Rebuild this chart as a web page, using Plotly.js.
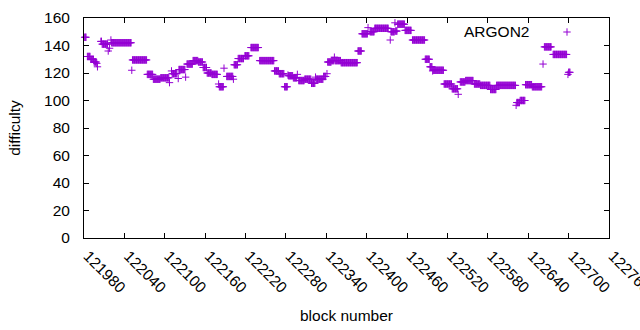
<!DOCTYPE html>
<html>
<head>
<meta charset="utf-8">
<script src="https://cdn.plot.ly/plotly-3.0.1.min.js"></script>
<style>html,body{margin:0;padding:0;background:#fff;}#chart{width:640px;height:330px;}</style>
</head>
<body>
<div id="chart"></div>
<script>
// Runs of consecutive blocks sharing the same difficulty (first block, last block, difficulty)
var runStart = [121981,121985,121990,121995,121999,122000,122005,122007,122016,122018,122020,122021,122051,122052,122074,122083,122094,122107,122110,122111,122120,122121,122131,122133,122142,122150,122157,122163,122170,122180,122181,122188,122192,122202,122203,122209,122219,122228,122241,122263,122270,122278,122283,122284,122291,122297,122299,122308,122318,122324,122325,122336,122341,122342,122348,122352,122353,122362,122387,122393,122402,122405,122412,122435,122436,122442,122443,122446,122457,122468,122487,122494,122498,122499,122515,122527,122536,122539,122547,122560,122569,122584,122593,122622,122623,122628,122636,122646,122662,122664,122677,122699,122700];
var runEnd   = [121983,121989,121994,121998,121999,122000,122006,122015,122016,122018,122020,122050,122051,122073,122082,122093,122106,122107,122110,122118,122120,122130,122131,122141,122149,122156,122162,122169,122178,122180,122187,122188,122201,122202,122208,122217,122225,122239,122262,122269,122277,122282,122283,122290,122296,122297,122307,122317,122323,122324,122335,122339,122341,122347,122351,122352,122361,122386,122392,122401,122402,122411,122432,122435,122441,122442,122445,122456,122466,122486,122493,122497,122498,122514,122526,122535,122536,122546,122558,122568,122583,122592,122621,122622,122627,122635,122645,122660,122662,122674,122697,122699,122702];
var runValue = [146,132,130,128,127,124.5,143,141,136,138,144,142,122,129.5,119,115.5,116.5,113,121.5,119.5,116,122.5,117,126.5,129,128,124,120,119,112,110,123.5,117.5,115.5,126,130.5,132.5,138.5,129,121.5,119.5,110,118.5,118,116.5,119,114.5,115.5,112.5,117,115.5,117.5,119.5,128,129,131.5,129,127.5,136,148.5,153,150,152.5,144,150,156.5,150.5,155.5,151,144,130,124.5,121.5,122,112,108.5,104.5,113.5,114.5,112,111,108,111,96.5,98.5,100,111.5,110,126.5,139,133.5,119,120.5];
var seriesName = "ARGON2";
var xTickStart = 121980, xTickStep = 60, xMax = 122760;
var yMax = 160, yTickStep = 20;

var xs = [], ys = [];
for (var i = 0; i < runStart.length; i++) {
  for (var b = runStart[i]; b <= runEnd[i]; b++) { xs.push(b); ys.push(runValue[i]); }
}
var color = '#9400D3';
var fnt = {family: '"Liberation Sans", Arial, sans-serif', size: 15.5, color: '#000'};

var trace = {
  x: xs, y: ys, type: 'scatter', mode: 'markers', name: seriesName,
  cliponaxis: false,
  marker: {symbol: 'cross-thin', size: 5.3, color: color, line: {width: 1, color: color}},
  showlegend: false
};

var L = 84, R = 31, T = 18, B = 92, W = 640, H = 330;
var pw = W - L - R, ph = H - T - B;
var sx = 567, sy = 32; // legend sample position in px
function px2x(p){return (p - L)/pw;}
function px2y(p){return (H - B - p)/ph;}
var arm = 3.7;

var layout = {
  width: W, height: H,
  margin: {l: L, r: R, t: T, b: B, pad: 0},
  paper_bgcolor: '#fff', plot_bgcolor: '#fff',
  font: fnt,
  xaxis: {
    range: [xTickStart, xMax], tick0: xTickStart, dtick: xTickStep,
    tickformat: 'd',
    ticks: 'inside', ticklen: 5, tickwidth: 1, tickcolor: '#000',
    showline: true, linecolor: '#000', linewidth: 1, mirror: 'allticks',
    showgrid: false, zeroline: false, tickangle: 45, tickfont: fnt,
    ticklabelstandoff: 2, ticklabelshift: 4, ticklabeloverflow: 'allow',
    automargin: false,
    title: {text: 'block number', font: fnt, standoff: 14}
  },
  yaxis: {
    range: [0, yMax], dtick: yTickStep, tick0: 0,
    ticks: 'inside', ticklen: 5, tickwidth: 1, tickcolor: '#000',
    showline: true, linecolor: '#000', linewidth: 1, mirror: 'allticks',
    showgrid: false, zeroline: false, tickfont: fnt,
    ticklabelstandoff: 10,
    automargin: false,
    title: {text: 'difficulty', font: fnt, standoff: 19}
  },
  showlegend: false,
  annotations: [{
    xref: 'paper', yref: 'paper', x: px2x(531), y: px2y(31),
    xanchor: 'right', yanchor: 'middle', showarrow: false,
    text: seriesName, font: fnt
  }],
  shapes: [
    {type: 'line', xref: 'paper', yref: 'paper', x0: px2x(sx-arm), x1: px2x(sx+arm), y0: px2y(sy), y1: px2y(sy), line: {color: color, width: 1}},
    {type: 'line', xref: 'paper', yref: 'paper', x0: px2x(sx), x1: px2x(sx), y0: px2y(sy-arm), y1: px2y(sy+arm), line: {color: color, width: 1}}
  ]
};

Plotly.newPlot('chart', [trace], layout, {staticPlot: true, displayModeBar: false});
</script>
</body>
</html>
